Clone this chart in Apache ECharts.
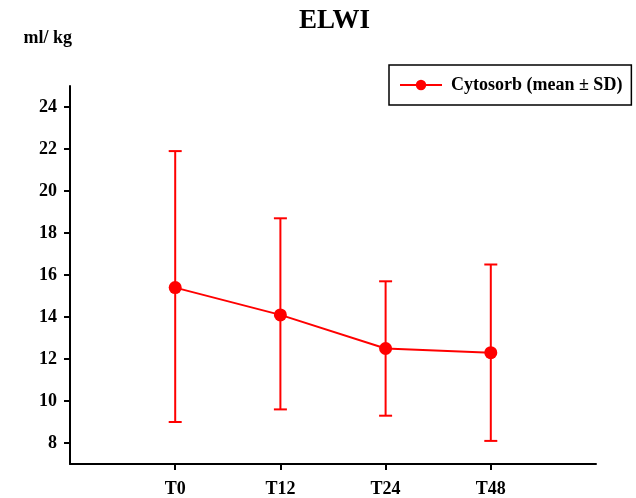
<!DOCTYPE html>
<html><head><meta charset="utf-8">
<script src="https://cdn.jsdelivr.net/npm/echarts@6/dist/echarts.min.js"></script>
<style>html,body{margin:0;padding:0;background:#fff}#c{width:636px;height:498px}</style>
</head><body><div id="c"></div>
<script>
const categories = ['', 'T0', 'T12', 'T24', 'T48', ''];
const meanValues = [null, 15.4, 14.1, 12.5, 12.3, null];
const sdUpper = [null, 21.9, 18.7, 15.7, 16.5, null];
const sdLower = [null, 9.0, 9.6, 9.3, 8.1, null];
const yTicks = [8, 10, 12, 14, 16, 18, 20, 22, 24];
const seriesName = 'Cytosorb (mean ± SD)';

const font = 'Liberation Serif';
const errData = [];
for (let i = 0; i < categories.length; i++) {
  if (meanValues[i] != null) errData.push([i, sdLower[i], sdUpper[i]]);
}
const chart = echarts.init(document.getElementById('c'), null, {renderer: 'canvas'});
chart.setOption({
  animation: false,
  title: {text: 'ELWI', left: 294, top: 3,
    textStyle: {fontFamily: font, fontSize: 27, fontWeight: 'bold', color: '#000'}},
  grid: {left: 70, right: 40, top: 86, bottom: 34},
  legend: {
    data: [seriesName], left: 389, top: 65,
    padding: [11, 9, 11, 10],
    borderColor: '#000', borderWidth: 1.5,
    itemWidth: 42, itemHeight: 13,
    textStyle: {fontFamily: font, fontSize: 18, fontWeight: 'bold', color: '#000', padding: [0, 0, 0, 4]}
  },
  xAxis: {
    type: 'category', data: categories, boundaryGap: false,
    axisLine: {lineStyle: {color: '#000', width: 2}},
    axisTick: {show: true, length: 6, lineStyle: {color: '#000', width: 2},
      interval: (idx, val) => val !== ''},
    axisLabel: {margin: 16, fontFamily: font, fontSize: 18, fontWeight: 'bold', color: '#000'},
    splitLine: {show: false}
  },
  yAxis: {
    type: 'value', min: 7, max: 25,
    name: 'ml/ kg', nameLocation: 'end', nameGap: 0,
    nameTextStyle: {fontFamily: font, fontSize: 18, fontWeight: 'bold', color: '#000',
      align: 'right', verticalAlign: 'bottom', padding: [0, -2, 39, 0]},
    axisLine: {show: true, lineStyle: {color: '#000', width: 2}},
    axisTick: {show: true, length: 6, lineStyle: {color: '#000', width: 2}, customValues: yTicks},
    axisLabel: {margin: 13, fontFamily: font, fontSize: 18, fontWeight: 'bold', color: '#000', customValues: yTicks},
    splitLine: {show: false}
  },
  series: [
    {
      name: 'sd', type: 'custom', data: errData, z: 2,
      renderItem: function (params, api) {
        const x = api.value(0);
        const lo = api.coord([x, api.value(1)]);
        const hi = api.coord([x, api.value(2)]);
        const hw = 6.5;
        const st = {stroke: '#ff0000', lineWidth: 2, fill: null};
        return {type: 'group', children: [
          {type: 'line', shape: {x1: lo[0], y1: lo[1], x2: hi[0], y2: hi[1]}, style: st},
          {type: 'line', shape: {x1: lo[0] - hw, y1: lo[1], x2: lo[0] + hw, y2: lo[1]}, style: st},
          {type: 'line', shape: {x1: hi[0] - hw, y1: hi[1], x2: hi[0] + hw, y2: hi[1]}, style: st}
        ]};
      }
    },
    {
      name: seriesName, type: 'line', data: meanValues, z: 3,
      symbol: 'circle', symbolSize: 13,
      lineStyle: {color: '#ff0000', width: 2},
      itemStyle: {color: '#ff0000'}
    }
  ]
});
</script></body></html>
